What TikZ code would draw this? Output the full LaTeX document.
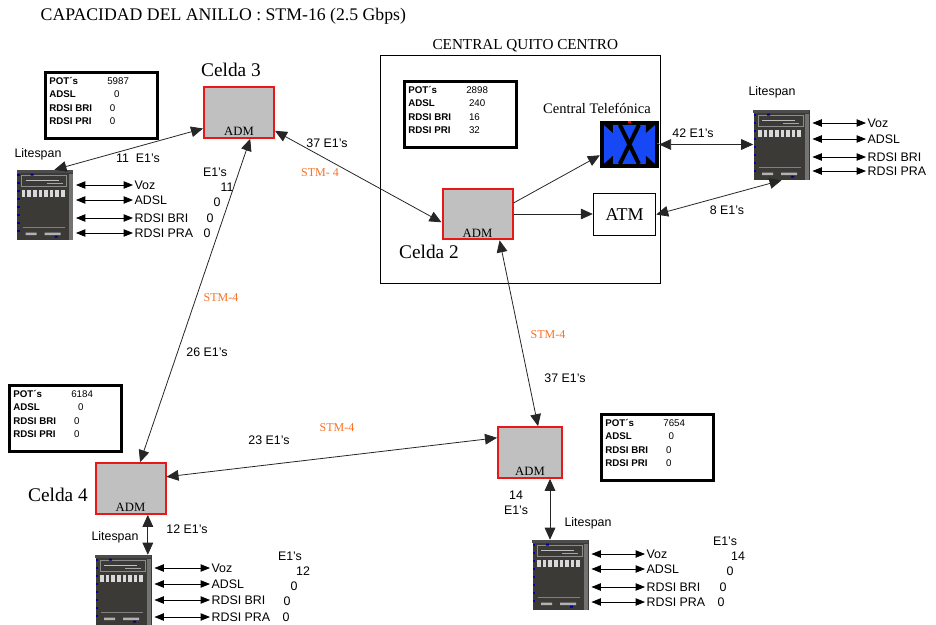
\documentclass[tikz,border=0pt]{standalone}
\usepackage{fontspec}
\setmainfont{Liberation Serif}
\setsansfont{Liberation Sans}
\usetikzlibrary{arrows.meta,positioning}
\definecolor{admgray}{RGB}{192,192,192}
\definecolor{admred}{RGB}{232,24,24}
\definecolor{stmorange}{RGB}{250,112,36}
\definecolor{swblue}{RGB}{22,72,245}
\definecolor{lsbody}{RGB}{60,58,54}

% front panel of a Litespan cabinet, drawn over its node
\newcommand{\litespanface}[1]{%
  \begin{scope}[shift={(#1.north west)}]
    \fill[black!70] (0,0) rectangle (56,3);
    \draw[black!45, line width=0.6pt] (5,6) rectangle (50,17);
    \draw[black!25, line width=0.5pt] (9,11) -- (42,11);
    \draw[black!35, line width=0.4pt] (30,14) -- (46,14);
    \foreach \i in {0,...,7}
      \fill[black!15] (5+\i*5.6,20) rectangle (8.6+\i*5.6,27);
    \foreach \yy in {4,12,...,66}
      \fill[blue!65!black] (0.5,\yy) rectangle (3,\yy+2.5);
    \fill[blue!55!black] (14,4) rectangle (17,6) (38,66) rectangle (41,68);
    \fill[black!55] (52,4) rectangle (56,70);
    \draw[black!50] (6,58) -- (48,58);
    \fill[black!30] (9,63) rectangle (20,65.5) (28,63) rectangle (44,65.5);
  \end{scope}}

% switching symbol of the exchange
\newcommand{\switchface}[1]{%
  \begin{scope}[shift={(#1.north west)}]
    \fill[swblue] (4,4) rectangle (55,43);
    \fill[black] (4,4) -- (13,4) -- (13,12) -- cycle (55,4) -- (46,4) -- (46,12) -- cycle
                 (4,43) -- (13,43) -- (13,35) -- cycle (55,43) -- (46,43) -- (46,35) -- cycle;
    \draw[black, line width=3pt] (20,4) -- (39,43) (39,4) -- (20,43);
    \fill[red] (28,0) rectangle (31,2);
    \fill[magenta] (57.5,22) rectangle (59,23.5);
  \end{scope}}

\begin{document}
\begin{tikzpicture}
  [
    x=0.75pt, y=-0.75pt,
    adm/.style={draw=admred, fill=admgray, line width=1.5pt, rectangle, minimum width=52.5pt, minimum height=38pt, inner sep=0pt,
      label={[anchor=south, inner sep=2pt, font=\fontsize{9.5}{10}\selectfont]south:ADM}},
    celda/.style={font=\fontsize{14.5}{16}\selectfont, inner sep=1pt},
    info/.style={draw, line width=2pt, rectangle, inner xsep=3pt, inner ysep=2pt, anchor=north west, font=\sffamily\fontsize{7.3}{10}\selectfont},
    txt/.style={font=\sffamily\fontsize{9.3}{11}\selectfont, inner sep=1pt},
    stm/.style={font=\fontsize{9}{10}\selectfont, text=stmorange, inner sep=1pt},
    link/.style={<->, >={Triangle[length=9pt,width=8pt]}, line width=0.6pt, draw=black!85},
    feed/.style={->, >={Triangle[length=9pt,width=8pt]}, line width=0.6pt, draw=black!85},
    port/.style={<->, >={Triangle[length=7pt,width=5.5pt]}, line width=0.6pt, shorten <=2pt},
    litespan/.style={rectangle, fill=lsbody, minimum width=42pt, minimum height=52.5pt, inner sep=0pt},
    switch/.style={rectangle, fill=black, minimum width=44pt, minimum height=35pt, inner sep=0pt}
  ]
  \useasboundingbox (0,0) rectangle (936,625);

  \node[anchor=west, font=\fontsize{13.3}{15}\selectfont] (title) at (36,16) {CAPACIDAD DEL ANILLO : STM-16 (2.5 Gbps)};

  % central office
  \node[draw, line width=0.6pt, minimum width=210pt, minimum height=171pt,
    label={[font=\fontsize{11.4}{13}\selectfont, inner sep=2pt, xshift=4pt]above:CENTRAL QUITO CENTRO}] (quito) at (520,169) {};

  % ring nodes
  \node[adm] (adm3) at (239,112.5) {};
  \node[adm] (adm2) at (477.5,214) {};
  \node[adm, minimum width=48pt] (adm1) at (530,452.5) {};
  \node[adm] (adm4) at (130.5,488.5) {};
  \node[celda] (celda3) at (231,70) {Celda 3};
  \node[celda] (celda2) at (429,252) {Celda 2};
  \node[celda] (celda4) at (58,495) {Celda 4};

  \node[switch] (central) at (629.5,144.5) {};
  \switchface{central}
  \node[font=\fontsize{10.9}{13}\selectfont] (centraltxt) at (597,108) {Central Telefónica};
  \node[draw, line width=0.6pt, minimum width=47pt, minimum height=32pt, font=\fontsize{13.5}{15}\selectfont] (atm) at (624.5,214.5) {\raisebox{-4pt}{ATM}};

  % line counts per cell
  \node[info] (info3) at (44,71) {\begin{tabular}{@{}p{43.5pt}@{}p{34.5pt}@{}}
    \textbf{POT´s} & 5987\\ \textbf{ADSL} & \hspace{5pt}0\\ \textbf{RDSI BRI} & \hspace{2pt}0\\ \textbf{RDSI PRI} & \hspace{2pt}0\\[5.5pt]\end{tabular}};
  \node[info] (info2) at (403,80) {\begin{tabular}{@{}p{43.5pt}@{}p{34.5pt}@{}}
    \textbf{POT´s} & 2898\\ \textbf{ADSL} & \hspace{2pt}240\\ \textbf{RDSI BRI} & \hspace{2pt}16\\ \textbf{RDSI PRI} & \hspace{2pt}32\\[5.5pt]\end{tabular}};
  \node[info] (info4) at (8,384) {\begin{tabular}{@{}p{43.5pt}@{}p{34.5pt}@{}}
    \textbf{POT´s} & 6184\\ \textbf{ADSL} & \hspace{5pt}0\\ \textbf{RDSI BRI} & \hspace{2pt}0\\ \textbf{RDSI PRI} & \hspace{2pt}0\\[5.5pt]\end{tabular}};
  \node[info] (info1) at (600,413) {\begin{tabular}{@{}p{43.5pt}@{}p{34.5pt}@{}}
    \textbf{POT´s} & 7654\\ \textbf{ADSL} & \hspace{4pt}0\\ \textbf{RDSI BRI} & \hspace{2pt}0\\ \textbf{RDSI PRI} & \hspace{2pt}0\\[5.5pt]\end{tabular}};

  % access multiplexers
  \node[litespan] (ls1) at (45,205) {};
  \node[litespan] (ls2) at (781.5,145) {};
  \node[litespan] (ls3) at (123.5,590) {};
  \node[litespan] (ls4) at (560.5,575) {};
  \litespanface{ls1}
  \litespanface{ls2}
  \litespanface{ls3}
  \litespanface{ls4}
  \node[txt] (ls1txt) at (38,154) {Litespan};
  \node[txt] (ls2txt) at (772,92) {Litespan};
  \node[txt] (ls3txt) at (115,537) {Litespan};
  \node[txt] (ls4txt) at (588,523) {Litespan};

  \foreach \p/\t/\yy in {voz/Voz/185, adsl/ADSL/200, bri/RDSI BRI/218, pra/RDSI PRA/233}{
    \node[txt, anchor=west] (ls1\p) at (133,\yy) {\t};
    \draw[port] (ls1.east |- ls1\p.west) -- (ls1\p.west);
  }
  \foreach \p/\t/\yy in {voz/Voz/123, adsl/ADSL/139, bri/RDSI BRI/157, pra/RDSI PRA/171}{
    \node[txt, anchor=west] (ls2\p) at (866,\yy) {\t};
    \draw[port] (ls2.east |- ls2\p.west) -- (ls2\p.west);
  }
  \foreach \p/\t/\yy in {voz/Voz/568, adsl/ADSL/584, bri/RDSI BRI/600, pra/RDSI PRA/617}{
    \node[txt, anchor=west] (ls3\p) at (210,\yy) {\t};
    \draw[port] (ls3.east |- ls3\p.west) -- (ls3\p.west);
  }
  \foreach \p/\t/\yy in {voz/Voz/554, adsl/ADSL/569, bri/RDSI BRI/587, pra/RDSI PRA/602}{
    \node[txt, anchor=west] (ls4\p) at (645,\yy) {\t};
    \draw[port] (ls4.east |- ls4\p.west) -- (ls4\p.west);
  }

  % E1 counts on the subscriber side
  \node[txt] (ls1e1) at (215,172) {E1's};
  \node[txt] (ls1n1) at (227,187) {11};
  \node[txt] (ls1n2) at (217,202) {0};
  \node[txt] (ls1n3) at (210,218) {0};
  \node[txt] (ls1n4) at (207,233) {0};
  \node[txt] (ls3e1) at (290,556) {E1's};
  \node[txt] (ls3n1) at (303,571) {12};
  \node[txt] (ls3n2) at (294,586) {0};
  \node[txt] (ls3n3) at (287,601) {0};
  \node[txt] (ls3n4) at (286,617) {0};
  \node[txt] (ls4e1) at (725,541) {E1's};
  \node[txt] (ls4n1) at (738,556) {14};
  \node[txt] (ls4n2) at (730,571) {0};
  \node[txt] (ls4n3) at (723,587) {0};
  \node[txt] (ls4n4) at (721,602) {0};

  % ring links
  \draw[link] (ls1.75) -- (adm3.204);
  \draw[link] (adm3.293) -- (adm4.70);
  \draw[link] (adm3.-27) -- (adm2.193);
  \draw[feed] (adm2.17) -- (central.200);
  \draw[feed] (adm2.east) -- (adm2.east -| atm.west);
  \draw[link] (central.east) -- (central.east -| ls2.west);
  \draw[link] (atm.east) -- (ls2.south);
  \draw[link] (adm2.310) -- (adm1.73);
  \draw[link] (adm4.18) -- (adm1.156);
  \coordinate (a4s) at ([xshift=13pt]adm4.south);
  \coordinate (a1s) at ([xshift=15pt]adm1.south);
  \draw[link] (a4s) -- (a4s |- ls3.north);
  \draw[link] (a1s) -- (a1s |- ls4.north);

  \node[txt] (e11) at (138,158) {11\ \ E1's};
  \node[txt] (e37a) at (327,143) {37 E1's};
  \node[stm] (stm32) at (320,173) {STM- 4};
  \node[stm] (stm34) at (221,298) {STM-4};
  \node[txt] (e26) at (207,352) {26 E1's};
  \node[txt] (e42) at (693,133) {42 E1's};
  \node[txt] (e8) at (727,210) {8 E1's};
  \node[stm] (stm21) at (548,335) {STM-4};
  \node[txt] (e37b) at (565,378) {37 E1's};
  \node[stm] (stm41) at (337,428) {STM-4};
  \node[txt] (e23) at (269,440) {23 E1's};
  \node[txt] (e12) at (187,529) {12 E1's};
  \node[txt, align=center] (e14) at (516,503) {14\\E1's};
\end{tikzpicture}
\end{document}
